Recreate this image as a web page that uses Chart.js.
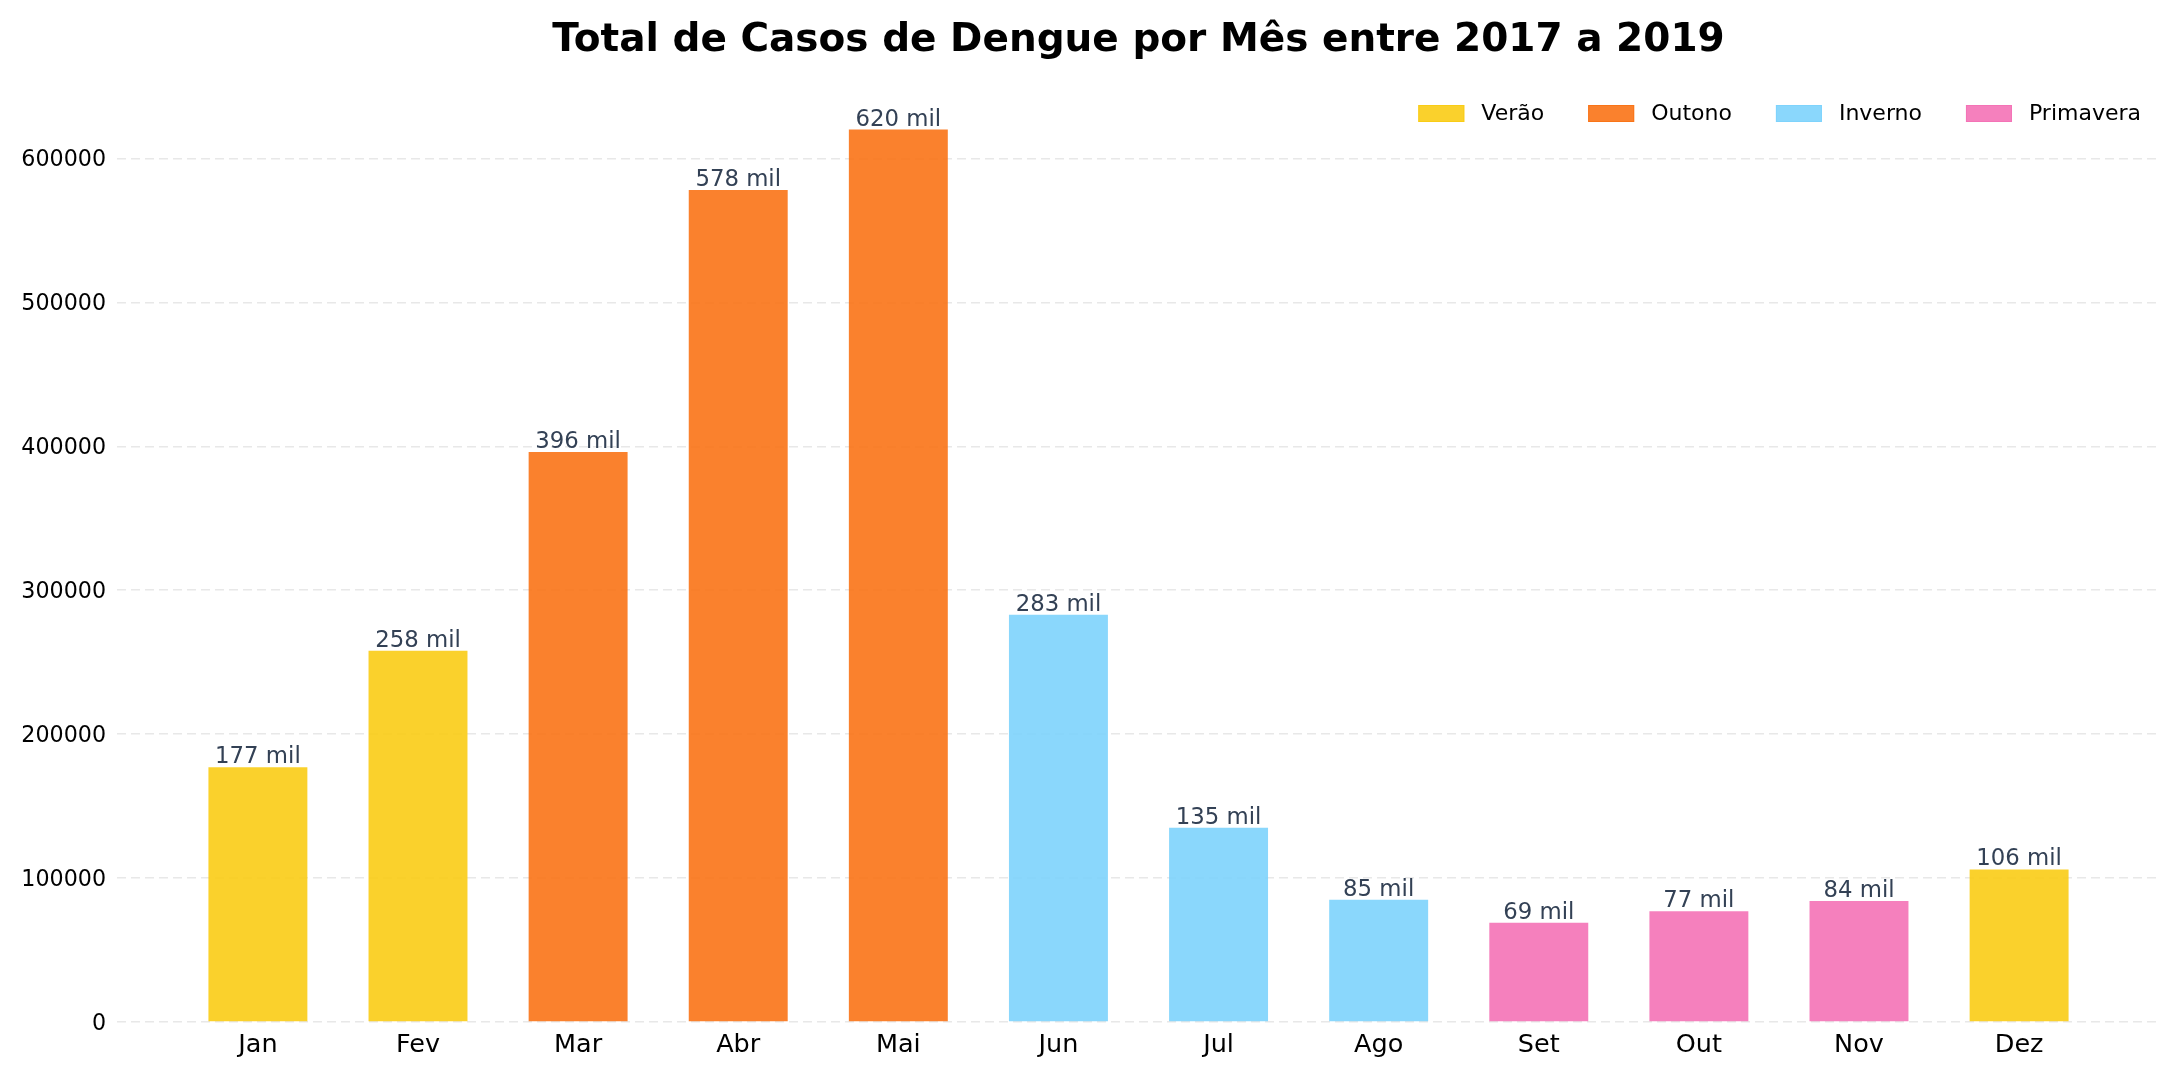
<!DOCTYPE html>
<html>
<head>
<meta charset="utf-8">
<title>Casos de Dengue por Mês</title>
<script src="https://cdn.jsdelivr.net/npm/chart.js@4"></script>
<style>
  html, body { margin: 0; padding: 0; background: #fff; }
  canvas { display: block; }
</style>
</head>
<body>
<canvas id="myChart" width="2181" height="1077"></canvas>
<script>
const months = ["Jan", "Fev", "Mar", "Abr", "Mai", "Jun", "Jul", "Ago", "Set", "Out", "Nov", "Dez"];
const cases = [177000, 258000, 396000, 578000, 620000, 283000, 135000, 85000, 69000, 77000, 84000, 106000];
const monthSeason = ["Verão", "Verão", "Outono", "Outono", "Outono", "Inverno", "Inverno", "Inverno", "Primavera", "Primavera", "Primavera", "Verão"];
const seasons = ["Verão", "Outono", "Inverno", "Primavera"];
const seasonColors = ["rgba(250,204,21,0.9)", "rgba(249,115,22,0.9)", "rgba(125,211,252,0.9)", "rgba(244,114,182,0.9)"];
const yTicks = [0, 100000, 200000, 300000, 400000, 500000, 600000];

Chart.defaults.font.family = "'DejaVu Sans', sans-serif";
Chart.defaults.color = "#000";

const ctx = document.getElementById("myChart");

const barColors = monthSeason.map((s) => seasonColors[seasons.indexOf(s)]);

// value labels on top of the bars ("177 mil")
const barLabels = {
  id: "barLabels",
  afterDatasetsDraw(chart) {
    const c = chart.ctx;
    const meta = chart.getDatasetMeta(0);
    c.save();
    c.font = "22.8px 'DejaVu Sans'";
    c.fillStyle = "#334155";
    c.textAlign = "center";
    c.textBaseline = "alphabetic";
    meta.data.forEach((bar, i) => {
      c.fillText(Math.round(cases[i] / 1000) + " mil", bar.x, bar.y - 4);
    });
    c.restore();
  },
};

// season legend, one row in the top right corner of the plot
const seasonLegend = {
  id: "seasonLegend",
  afterDraw(chart) {
    const c = chart.ctx;
    const boxW = 46, boxH = 17, gap = 17, colSpace = 44;
    const rightEdge = chart.chartArea.right - 19;
    const midY = 113.5;
    c.save();
    c.font = "22px 'DejaVu Sans'";
    const widths = seasons.map((s) => c.measureText(s).width);
    let total = 0;
    widths.forEach((w, i) => {
      total += boxW + gap + w + (i < seasons.length - 1 ? colSpace : 0);
    });
    let x = rightEdge - total;
    c.textBaseline = "middle";
    c.textAlign = "left";
    seasons.forEach((s, i) => {
      c.fillStyle = seasonColors[i];
      c.strokeStyle = seasonColors[i];
      c.lineWidth = 1;
      c.fillRect(x, midY - boxH / 2, boxW, boxH);
      c.strokeRect(x + 0.5, midY - boxH / 2 + 0.5, boxW - 1, boxH - 1);
      c.fillStyle = "#000";
      c.fillText(s, x + boxW + gap, midY + 1);
      x += boxW + gap + widths[i] + colSpace;
    });
    c.restore();
  },
};

new Chart(ctx, {
  type: "bar",
  data: {
    datasets: [
      {
        label: "Casos",
        data: cases.map((v, i) => ({ x: i, y: v })),
        backgroundColor: barColors,
        borderWidth: 0,
        barPercentage: 0.618,
        categoryPercentage: 1,
      },
    ],
  },
  options: {
    responsive: false,
    animation: false,
    devicePixelRatio: 1,
    layout: { padding: { left: 0, right: 21, top: 0, bottom: 0 } },
    plugins: {
      tooltip: { enabled: false },
      legend: { display: false },
      title: {
        display: true,
        fullSize: false,
        text: "Total de Casos de Dengue por Mês entre 2017 a 2019",
        color: "#000",
        font: { size: 39, weight: "bold", lineHeight: 1.2 },
        padding: { top: 17, bottom: 21.2 },
      },
    },
    scales: {
      x: {
        type: "linear",
        offset: false,
        min: -0.88,
        max: 11.88,
        afterBuildTicks(scale) {
          scale.ticks = months.map((m, i) => ({ value: i }));
        },
        afterFit(scale) {
          scale.height = 55;
        },
        grid: { display: false, drawTicks: false },
        border: { display: false },
        ticks: {
          autoSkip: false,
          maxRotation: 0,
          padding: 8,
          color: "#000",
          font: { size: 25.5 },
          callback: (v) => months[v],
        },
      },
      y: {
        min: 0,
        max: 651000,
        afterBuildTicks(scale) {
          scale.ticks = yTicks.map((v) => ({ value: v }));
        },
        afterFit(scale) {
          scale.width = 117;
        },
        grid: {
          color: "#e8e8e8",
          lineWidth: 1.5,
          drawTicks: false,
        },
        border: { display: false, dash: [9, 5] },
        ticks: {
          padding: 11,
          labelOffset: 2,
          color: "#000",
          font: { size: 22.2 },
          callback: (v) => String(v),
        },
      },
    },
  },
  plugins: [barLabels, seasonLegend],
});
</script>
</body>
</html>
